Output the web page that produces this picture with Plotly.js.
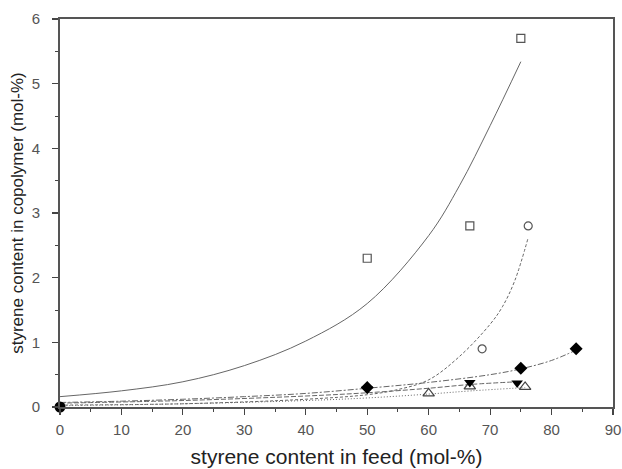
<!DOCTYPE html>
<html>
<head>
<meta charset="utf-8">
<script src="https://cdn.plot.ly/plotly-3.0.1.min.js"></script>
<style>html,body{margin:0;padding:0;background:#fff}#chart{width:622px;height:469px}</style>
</head>
<body>
<div id="chart"></div>
<script>
// Measured data points
var sqX = [50, 66.7, 75];
var sqY = [2.3, 2.8, 5.7];
var ciX = [68.7, 76.2];
var ciY = [0.9, 2.8];
var diX = [50, 75, 84];
var diY = [0.3, 0.6, 0.9];
var tdX = [50, 66.7, 74.4];
var tdY = [0.28, 0.38, 0.37];
var tuX = [60, 66.7, 75.7];
var tuY = [0.21, 0.32, 0.31];
var originX = [0];
var originY = [0];

// Fitted curves
var fitSqX = [0, 10, 20, 30, 40, 50, 60, 65, 70, 75];
var fitSqY = [0.16, 0.25, 0.39, 0.64, 1.02, 1.6, 2.65, 3.42, 4.35, 5.34];
var fitCiX = [0, 20, 40, 50, 55, 60, 65, 70, 72, 74, 76.2];
var fitCiY = [0.03, 0.05, 0.12, 0.19, 0.27, 0.42, 0.78, 1.28, 1.55, 1.95, 2.62];
var fitDiX = [0, 10, 20, 30, 40, 50, 60, 70, 75, 80, 84];
var fitDiY = [0.07, 0.09, 0.12, 0.16, 0.21, 0.29, 0.38, 0.5, 0.59, 0.72, 0.88];
var fitTdX = [0, 20, 40, 50, 60, 67, 74.4];
var fitTdY = [0.06, 0.1, 0.17, 0.22, 0.29, 0.35, 0.39];
var fitTuX = [0, 20, 40, 50, 60, 67, 75.7];
var fitTuY = [0.02, 0.05, 0.1, 0.14, 0.2, 0.25, 0.3];

var lc = '#666';
function line(x, y, dash) {
  return {x: x, y: y, mode: 'lines', line: {color: lc, width: 1, dash: dash, shape: 'spline', smoothing: 1}, hoverinfo: 'skip'};
}
function pts(x, y, sym, size, color, lw) {
  return {x: x, y: y, mode: 'markers', cliponaxis: false,
    marker: {symbol: sym, size: size, color: color, line: {color: color === '#000' ? '#000' : '#555', width: lw}}};
}
var traces = [
  line(fitSqX, fitSqY, 'solid'),
  line(fitCiX, fitCiY, '3px,2px'),
  line(fitDiX, fitDiY, '6px,2px,2px,2px'),
  line(fitTdX, fitTdY, '5px,2px'),
  line(fitTuX, fitTuY, '1px,2px'),
  pts(sqX, sqY, 'square-open', 8, '#555', 1.2),
  pts(ciX, ciY, 'circle-open', 8, '#555', 1.2),
  pts(tuX, tuY, 'triangle-up-open', 10, '#444', 1.2),
  pts(tdX, tdY, 'triangle-down', 10, '#000', 0),
  pts(diX, diY, 'diamond', 10, '#000', 0),
  pts(originX, originY, 'circle', 11, '#000', 0)
];
var axisFont = {family: 'Liberation Sans, Arial, sans-serif', size: 15, color: '#555'};
var layout = {
  width: 622, height: 469,
  margin: {l: 60, r: 9, t: 19, b: 62},
  paper_bgcolor: '#fff', plot_bgcolor: '#fff',
  showlegend: false,
  xaxis: {
    range: [0, 90], dtick: 10, tick0: 0,
    ticks: 'outside', ticklen: 6, tickwidth: 1.2, tickcolor: '#444',
    minor: {dtick: 5, ticks: 'outside', ticklen: 3, tickcolor: '#444', tickwidth: 1},
    showline: true, linecolor: '#555', linewidth: 2, mirror: true,
    showgrid: false, zeroline: false,
    tickfont: axisFont, ticklabelstandoff: 2,
    automargin: false,
    title: {text: 'styrene content in feed (mol-%)', font: {family: 'Liberation Sans, Arial, sans-serif', size: 21, color: '#222'}, standoff: 12}
  },
  yaxis: {
    range: [0, 6], dtick: 1, tick0: 0,
    ticks: 'outside', ticklen: 6, tickwidth: 1.2, tickcolor: '#444',
    minor: {dtick: 0.5, ticks: 'outside', ticklen: 3, tickcolor: '#444', tickwidth: 1},
    showline: true, linecolor: '#555', linewidth: 2, mirror: true,
    showgrid: false, zeroline: false,
    tickfont: axisFont, ticklabelstandoff: 9,
    automargin: false,
    title: {text: 'styrene content in copolymer (mol-%)', font: {family: 'Liberation Sans, Arial, sans-serif', size: 17, color: '#222'}, standoff: 4}
  }
};
Plotly.newPlot('chart', traces, layout, {displayModeBar: false, staticPlot: true});
</script>
</body>
</html>
